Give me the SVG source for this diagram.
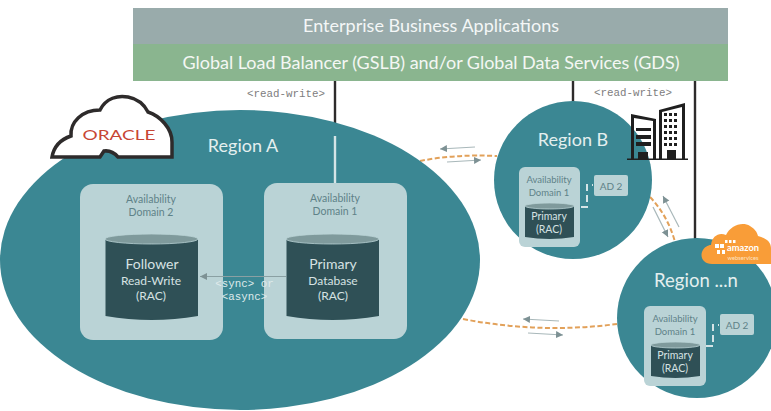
<svg xmlns="http://www.w3.org/2000/svg" width="771" height="411" viewBox="0 0 771 411">
<style>
text{font-family:"Lato","Open Sans","Liberation Sans",sans-serif;text-anchor:middle}
.region{fill:#3b8793}
.domain{fill:#bad3d6}
.cyl{fill:#2f5056}
.cyltop{fill:#7f9a9c;stroke:#bad3d6;stroke-width:.8}
.rt{fill:#e4efef}
.dt{fill:#5f8288;font-size:10.5px}
.ct{fill:#d6e2e3}
text.mono{font-family:"Liberation Mono",monospace;font-size:10.8px}
.orange{fill:none;stroke:#e2a15a;stroke-width:2;stroke-dasharray:5 2.5}
.garrow{fill:none;stroke:#a9b8ba;stroke-width:1.2}
.dash{fill:none;stroke:#d5e4e6;stroke-width:2;stroke-dasharray:7 4}
</style>
<defs>
<marker id="ah" markerUnits="userSpaceOnUse" markerWidth="8" markerHeight="8" refX="7" refY="3.500" orient="auto"><path d="M0 0L7 3.500L0 7Z" fill="#7d9194"/></marker>
</defs>
<g id="enterprise-apps"><rect x="133" y="8" width="595" height="36" fill="#99abab"/><text x="431" y="32" font-size="18" fill="#f4f7f7" textLength="256">Enterprise Business Applications</text></g>
<g id="gslb"><rect x="133" y="44" width="595" height="37" fill="#8ab58f"/><text x="431" y="69" font-size="18" fill="#f4f7f4" textLength="497">Global Load Balancer (GSLB) and/or Global Data Services (GDS)</text></g>
<g id="connectors">
<path d="M335 81V124M573 81V103M695 81V241" stroke="#2e2b2b" stroke-width="2.400" fill="none"/>
<path d="M420 161Q455 154 497 156" class="orange"/>
<path d="M650 197Q668 216 675 242" class="orange"/>
<path d="M463 319Q540 334 617 324" class="orange"/>
<path d="M475 147L440 149" class="garrow" marker-end="url(#ah)"/>
<path d="M447 162L481 160" class="garrow" marker-end="url(#ah)"/>
<path d="M653 207L668 237" class="garrow" marker-end="url(#ah)"/>
<path d="M679 227L663 196" class="garrow" marker-end="url(#ah)"/>
<path d="M559 321L523 319" class="garrow" marker-end="url(#ah)"/>
<path d="M528 333L563 335" class="garrow" marker-end="url(#ah)"/>
</g>
<text class="mono" x="286" y="97" fill="#7d7d7d">&lt;read-write&gt;</text>
<text class="mono" x="633" y="96" fill="#7d7d7d">&lt;read-write&gt;</text>
<g id="region-a">
<ellipse class="region" cx="240" cy="260" rx="240" ry="150"/>
<text class="rt" x="243" y="152" font-size="18">Region A</text>
<path d="M335 136V183" stroke="#d5e4e6" stroke-width="2.400"/>
<g id="ad2-a"><rect class="domain" x="80" y="184" width="143" height="156" rx="13"/>
<text class="dt" x="151" y="203">Availability</text><text class="dt" x="151" y="216">Domain 2</text>
<path class="cyl" d="M105.500 239V316Q151.500 324 198 316V239Z"/><ellipse class="cyltop" cx="151.500" cy="239" rx="46.500" ry="5"/>
<text class="ct" x="152" y="269" font-size="14">Follower</text><text class="ct" x="151" y="285" font-size="12">Read-Write</text><text class="ct" x="151" y="300" font-size="12">(RAC)</text></g>
<g id="ad1-a"><rect class="domain" x="264" y="183" width="143" height="156" rx="13"/>
<text class="dt" x="335" y="202">Availability</text><text class="dt" x="335" y="215">Domain 1</text>
<path class="cyl" d="M286.500 239V316Q332.500 324 379 316V239Z"/><ellipse class="cyltop" cx="332.500" cy="239" rx="46.500" ry="5"/>
<text class="ct" x="333" y="269" font-size="14">Primary</text><text class="ct" x="333" y="285" font-size="12">Database</text><text class="ct" x="333" y="300" font-size="12">(RAC)</text></g>
<path d="M286 276.500H200" stroke="#8aa0a3" stroke-width="1.200" marker-end="url(#ah)"/>
<text class="mono" x="244.500" y="287" fill="#dfeaeb">&lt;sync&gt; or</text><text class="mono" x="244.500" y="300" fill="#dfeaeb">&lt;async&gt;</text>
</g>
<g id="oracle-cloud"><path d="M52 157C54 146 62 139 71 136C70 122 82 110 100 110C106 98 118 95 128 97C138 99 144 104 148 112C160 116 172 128 172 142V157H118Q112 150 104 151L100 157Z" fill="#fff" stroke="#2e2b2b" stroke-width="3.500"/>
<text x="119" y="140" font-size="13" fill="#c74634" font-family="Liberation Sans" textLength="73" lengthAdjust="spacingAndGlyphs">ORACLE</text></g>
<g id="region-b"><circle class="region" cx="573" cy="180" r="79"/>
<text class="rt" x="573" y="146" font-size="18">Region B</text>
<rect class="domain" x="519" y="167" width="61" height="80" rx="6"/>
<text class="dt" x="549" y="183" style="font-size:9.500px">Availability</text><text class="dt" x="549" y="196" style="font-size:9.500px">Domain 1</text>
<path class="cyl" d="M525 206V237Q549.500 241 574 237V206Z"/><ellipse class="cyltop" cx="549.500" cy="206" rx="24.500" ry="3"/>
<text class="ct" x="549" y="220" font-size="10.500">Primary</text><text class="ct" x="549" y="233" font-size="10.500">(RAC)</text>
<path class="dash" d="M581 207H587V185H593"/>
<rect class="domain" x="594" y="175" width="34" height="21" rx="2"/><text class="dt" x="611" y="190" style="font-size:10px">AD 2</text></g>
<g id="building" fill="#1f1f1f" stroke="none">
<path d="M627 158.500H688V160H627Z"/>
<path d="M631 159V114L656 119V159ZM634 118V159H638V152H648V159H653V121Z" fill-rule="evenodd"/>
<path d="M636 128H651V131H636ZM636 135H651V139H636ZM636 142H651V146H636Z"/>
<path d="M659 159V110L685 103V159ZM662 112V159H667V150H676V159H682V107Z" fill-rule="evenodd"/>
<path d="M664 113h3v3h-3zM669 113h3v3h-3zM674 113h3v3h-3zM664 119h3v3h-3zM669 119h3v3h-3zM674 119h3v3h-3zM664 125h3v3h-3zM669 125h3v3h-3zM674 125h3v3h-3zM664 131h3v3h-3zM669 131h3v3h-3zM674 131h3v3h-3zM664 137h3v3h-3zM669 137h3v3h-3zM674 137h3v3h-3zM664 143h3v3h-3zM669 143h3v3h-3zM674 143h3v3h-3z"/>
</g>
<g id="region-n"><circle class="region" cx="697" cy="318" r="80"/>
<text class="rt" x="696" y="287" font-size="18.500">Region ...n</text>
<rect class="domain" x="644" y="306" width="62" height="80" rx="6"/>
<text class="dt" x="675" y="322" style="font-size:9.500px">Availability</text><text class="dt" x="675" y="335" style="font-size:9.500px">Domain 1</text>
<path class="cyl" d="M651 345V376Q675.500 380 700 376V345Z"/><ellipse class="cyltop" cx="675.500" cy="345" rx="24.500" ry="3"/>
<text class="ct" x="675" y="359" font-size="10.500">Primary</text><text class="ct" x="675" y="372" font-size="10.500">(RAC)</text>
<path class="dash" d="M706 346H713V325H719"/>
<rect class="domain" x="720" y="314" width="34" height="21" rx="2"/><text class="dt" x="737" y="329" style="font-size:10px">AD 2</text></g>
<g id="aws-cloud"><path d="M712 264C704 264 700 258 702 252C704 247 708 245 711 245C712 236 719 232 726 235C730 226 742 221 750 226C755 229 757 232 758 236C766 238 771 242 771 248V264Z" fill="#f99d38"/>
<text x="743" y="250.500" font-size="10" font-weight="700" fill="#fff" textLength="32" lengthAdjust="spacingAndGlyphs">amazon</text>
<text x="743" y="259.500" font-size="5.500" fill="#fde3c4" textLength="31" lengthAdjust="spacingAndGlyphs">webservices</text>
<path d="M715 244h4v4h-4zM720 244h4v4h-4zM725 240h2.500v3h-2.500zM729 240h2.500v3h-2.500zM733 240h2.500v3h-2.500zM717 250h3v4h-3zM722 250h3v4h-3z" fill="#fff"/></g>
</svg>
